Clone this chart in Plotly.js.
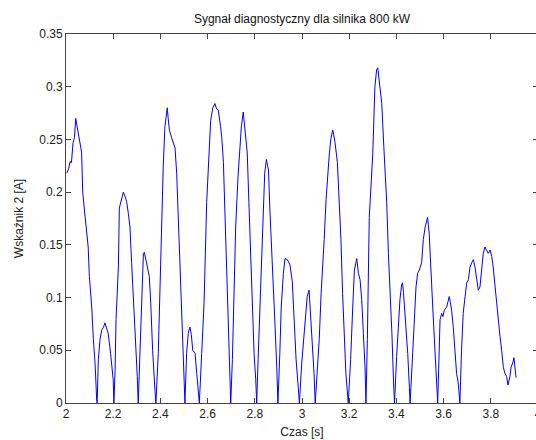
<!DOCTYPE html>
<html>
<head>
<meta charset="utf-8">
<script src="https://cdn.plot.ly/plotly-3.0.1.min.js"></script>
<style>
html,body{margin:0;padding:0;overflow:hidden;background:#fff;}
#chart{width:546px;height:440px;}
</style>
</head>
<body>
<div id="chart"></div>
<script>
// Time [s]
const czas = [
2.003,2.011,2.017,2.023,2.030,2.036,2.041,2.047,2.051,2.062,2.066,2.071,2.081,2.087,2.094,2.099,2.109,2.116,2.123,2.130,2.132,
2.137,2.144,2.151,2.159,2.165,2.172,2.179,2.189,2.200,2.203,
2.208,2.212,2.222,2.226,2.236,2.243,2.250,2.257,2.264,2.271,2.278,2.288,2.297,2.302,2.306,
2.314,2.321,2.328,2.332,2.339,2.344,2.353,2.359,2.367,2.377,2.381,
2.391,2.398,2.406,2.412,2.419,2.424,2.429,2.433,2.438,2.447,2.455,2.462,2.469,2.476,2.483,2.490,2.497,2.504,
2.511,2.518,2.525,2.531,2.537,2.547,2.554,2.565,
2.575,2.585,2.596,2.606,2.613,2.622,2.627,2.631,2.638,2.645,2.655,2.660,2.667,2.674,2.681,2.688,2.695,2.698,
2.705,2.712,2.719,2.729,2.737,2.743,2.751,2.756,2.761,2.768,2.775,2.783,2.789,2.797,2.804,2.808,
2.814,2.822,2.829,2.836,2.842,2.849,2.853,2.858,2.864,2.870,2.878,2.886,2.893,2.898,
2.906,2.912,2.921,2.928,2.938,2.949,2.959,2.966,2.975,2.984,2.989,
2.999,3.008,3.017,3.022,3.030,3.037,3.044,3.051,3.056,
3.065,3.073,3.081,3.088,3.094,3.102,3.109,3.116,3.122,3.130,3.134,3.140,3.150,3.158,3.165,3.172,3.179,3.186,3.196,
3.206,3.215,3.222,3.232,3.239,3.246,3.253,3.260,3.267,3.271,
3.277,3.285,3.290,3.300,3.309,3.316,3.321,3.324,3.328,3.338,3.347,3.359,3.366,3.373,3.381,3.388,3.392,
3.401,3.408,3.415,3.422,3.426,3.430,3.433,3.441,3.448,3.455,3.458,
3.466,3.473,3.483,3.490,3.497,3.507,3.514,3.522,3.532,3.539,3.547,3.554,3.561,3.568,3.575,
3.585,3.592,3.597,3.603,3.613,3.618,3.624,3.629,3.634,3.641,3.648,3.655,3.662,3.669,
3.676,3.683,3.691,3.698,3.705,3.712,3.719,3.726,3.733,3.740,3.747,3.754,3.761,3.768,3.775,3.782,3.789,3.797,3.804,3.810,3.818,3.827,3.839,3.846,3.853,3.860,3.867,3.873,3.881,3.886,3.893,3.898,3.903,3.907
];
// Wskaźnik 2 [A]
const wskaznik = [
0.218,0.222,0.229,0.228,0.247,0.252,0.270,0.262,0.259,0.243,0.238,0.199,0.174,0.160,0.148,0.120,0.091,0.060,0.038,0.003,0.000,
0.041,0.060,0.069,0.072,0.076,0.071,0.066,0.047,0.022,0.000,
0.031,0.079,0.129,0.185,0.195,0.200,0.196,0.191,0.180,0.167,0.133,0.091,0.047,0.025,0.000,
0.047,0.095,0.142,0.143,0.135,0.129,0.120,0.095,0.050,0.012,0.000,
0.047,0.110,0.174,0.224,0.262,0.272,0.280,0.270,0.259,0.252,0.247,0.242,0.218,0.174,0.129,0.091,0.047,0.000,
0.047,0.066,0.072,0.065,0.050,0.047,0.028,0.000,
0.047,0.095,0.190,0.237,0.268,0.280,0.282,0.284,0.279,0.278,0.262,0.252,0.228,0.174,0.123,0.079,0.028,0.000,
0.041,0.104,0.167,0.215,0.247,0.262,0.276,0.265,0.252,0.237,0.190,0.139,0.085,0.047,0.022,0.000,
0.041,0.098,0.148,0.193,0.218,0.231,0.226,0.221,0.183,0.148,0.107,0.072,0.034,0.000,
0.047,0.091,0.123,0.137,0.136,0.131,0.115,0.076,0.041,0.015,0.000,
0.038,0.066,0.091,0.101,0.107,0.082,0.060,0.028,0.000,
0.028,0.060,0.104,0.129,0.155,0.193,0.218,0.237,0.250,0.259,0.255,0.247,0.228,0.195,0.155,0.104,0.060,0.028,0.000,
0.041,0.091,0.126,0.137,0.123,0.117,0.098,0.066,0.034,0.000,
0.060,0.176,0.195,0.237,0.300,0.316,0.318,0.312,0.300,0.284,0.242,0.190,0.142,0.110,0.066,0.019,0.000,
0.044,0.076,0.098,0.112,0.114,0.105,0.095,0.076,0.047,0.015,0.000,
0.034,0.072,0.110,0.123,0.126,0.133,0.155,0.167,0.176,0.161,0.129,0.091,0.060,0.034,0.000,
0.079,0.085,0.082,0.088,0.091,0.096,0.101,0.095,0.088,0.072,0.047,0.028,0.019,0.000,
0.050,0.085,0.101,0.114,0.117,0.129,0.133,0.136,0.129,0.117,0.107,0.110,0.126,0.142,0.148,0.145,0.142,0.145,0.139,0.129,0.110,0.085,0.063,0.050,0.034,0.028,0.025,0.017,0.025,0.034,0.038,0.043,0.028,0.024
];
const xTicks = [2, 2.2, 2.4, 2.6, 2.8, 3, 3.2, 3.4, 3.6, 3.8, 4];
const xTickText = ['2','2.2','2.4','2.6','2.8','3','3.2','3.4','3.6','3.8','4'];
const yTicks = [0, 0.05, 0.1, 0.15, 0.2, 0.25, 0.3, 0.35];
const yTickText = ['0','0.05','0.1','0.15','0.2','0.25','0.3','0.35'];

const font = {family: 'Liberation Sans, Arial, sans-serif', size: 12, color: '#222'};
const axisCommon = {
  showgrid: false, zeroline: false, showline: true, linecolor: '#444', linewidth: 1,
  mirror: 'ticks', ticks: 'inside', ticklen: 5, tickcolor: '#444', tickwidth: 1,
  tickmode: 'array', automargin: false, tickfont: font
};
const layout = {
  width: 546, height: 440,
  margin: {l: 66, r: 8, t: 34, b: 37},
  paper_bgcolor: '#fff', plot_bgcolor: '#fff',
  font: font,
  showlegend: false,
  title: {text: 'Sygnał diagnostyczny dla silnika 800 kW', font: {family: font.family, size: 12, color: '#111'},
          x: 0.5, xref: 'paper', y: 1 - 19/440, yref: 'container', yanchor: 'middle'},
  xaxis: Object.assign({}, axisCommon, {range: [2, 4], tickvals: xTicks, ticktext: xTickText,
          title: {text: 'Czas [s]', font: font, standoff: 7}}),
  yaxis: Object.assign({}, axisCommon, {range: [0, 0.35], tickvals: yTicks, ticktext: yTickText,
          title: {text: 'Wskaźnik 2 [A]', font: font, standoff: 13}})
};
Plotly.newPlot('chart', [{
  x: czas, y: wskaznik, type: 'scatter', mode: 'lines',
  line: {color: '#0000ff', width: 1}
}], layout, {displayModeBar: false, responsive: false, staticPlot: true});
</script>
</body>
</html>
